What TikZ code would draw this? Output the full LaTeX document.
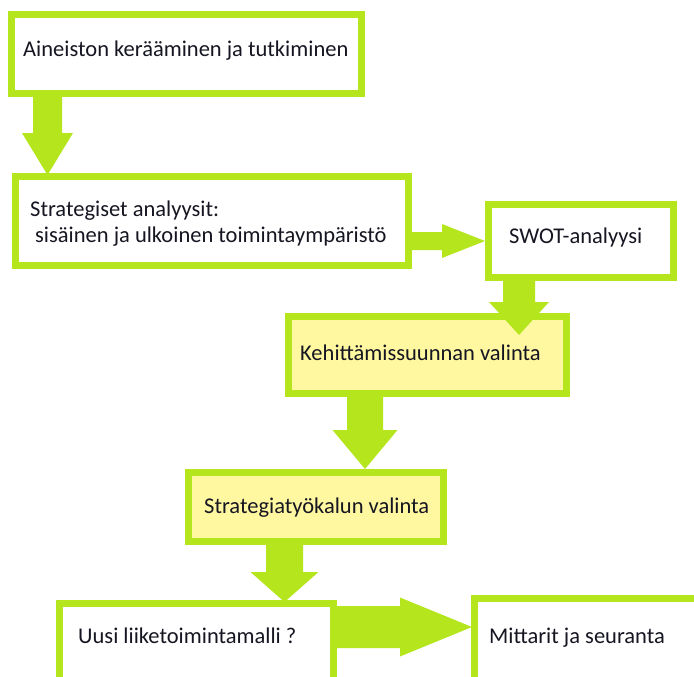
\documentclass[tikz,border=0pt]{standalone}
\usepackage{fontspec}
\setmainfont{Carlito}
\usetikzlibrary{calc}
\definecolor{limeg}{RGB}{181,230,29}
\definecolor{paleyel}{RGB}{255,248,160}
\definecolor{txtdark}{RGB}{22,22,34}
\newcommand{\ArrDown}[5]{%
  \fill[limeg] let \p1=(#1), \p2=(#2) in
    (\x1-#3,\y1) -- (\x1+#3,\y1) -- (\x1+#3,\y2+#5) -- (\x1+#4,\y2+#5) -- (\x1,\y2)
    -- (\x1-#4,\y2+#5) -- (\x1-#3,\y2+#5) -- cycle;}
\newcommand{\ArrRight}[5]{%
  \fill[limeg] let \p1=(#1), \p2=(#2) in
    (\x1,\y1+#3) -- (\x2-#5,\y1+#3) -- (\x2-#5,\y1+#4) -- (\x2,\y1)
    -- (\x2-#5,\y1-#4) -- (\x2-#5,\y1-#3) -- (\x1,\y1-#3) -- cycle;}
\begin{document}
\begin{tikzpicture}[x=1pt,y=1pt,
  box/.style={draw=limeg, line width=7pt, fill=white, inner sep=0pt},
  ybox/.style={box, fill=paleyel},
  txt/.style={inner sep=0pt, anchor=base west, text=txtdark, font=\fontsize{22.5}{27}\selectfont}]
\useasboundingbox (0,0) rectangle (694,-677);
\fill[white] (0,0) rectangle (694,-677);
\clip (0,0) rectangle (694,-677);
% boxes
\node[box, minimum width=349.5pt, minimum height=79pt] (b1) at (186.25,-54) {};
\node[box, minimum width=393pt, minimum height=89pt] (b2) at (212,-221) {};
\node[box, minimum width=185pt, minimum height=73pt] (swot) at (581,-241) {};
\node[ybox, minimum width=278pt, minimum height=77pt] (keh) at (427.5,-355) {};
\node[ybox, minimum width=255pt, minimum height=69pt] (str) at (316,-507) {};
\node[box, minimum width=274pt, minimum height=90pt] (uusi) at (196.5,-648.5) {};
\node[box, minimum width=245.5pt, minimum height=81.5pt] (mitt) at (597.25,-639.25) {};
% texts
\node[txt] (t1) at (23,-57) {Aineiston kerääminen ja tutkiminen};
\node[txt] (t2a) at (30,-216) {Strategiset analyysit:};
\node[txt] (t2b) at (35,-242) {sisäinen ja ulkoinen toimintaympäristö};
\node[txt] (t3) at (509,-243) {SWOT-analyysi};
\node[txt] (t4) at (300,-360) {Kehittämissuunnan valinta};
\node[txt] (t5) at (204,-513) {Strategiatyökalun valinta};
\node[txt] (t6) at (78,-643) {Uusi liiketoimintamalli ?};
\node[txt] (t7) at (489,-643) {Mittarit ja seuranta};
% block arrows
\ArrDown{$(b1.south west)+(39.5,0)$}{$(b2.north)+(0,-2)$}{14.5pt}{25.5pt}{42pt}
\ArrRight{$(b2.south east)+(0,28)$}{swot.west}{9pt}{17pt}{43pt}
\ArrDown{$(swot.south west)+(34,0)$}{$(keh.north)+(0,-22)$}{16pt}{30pt}{33pt}
\ArrDown{$(keh.south west)+(80,0)$}{str.north}{18pt}{32.5pt}{39pt}
\ArrDown{$(str.south west)+(99.5,0)$}{$(uusi.north)+(0,-2)$}{18.5pt}{34pt}{30pt}
\ArrRight{$(uusi.north east)+(0,-27)$}{$(mitt.west)+(1,0)$}{21pt}{29.5pt}{72pt}
\end{tikzpicture}
\end{document}
